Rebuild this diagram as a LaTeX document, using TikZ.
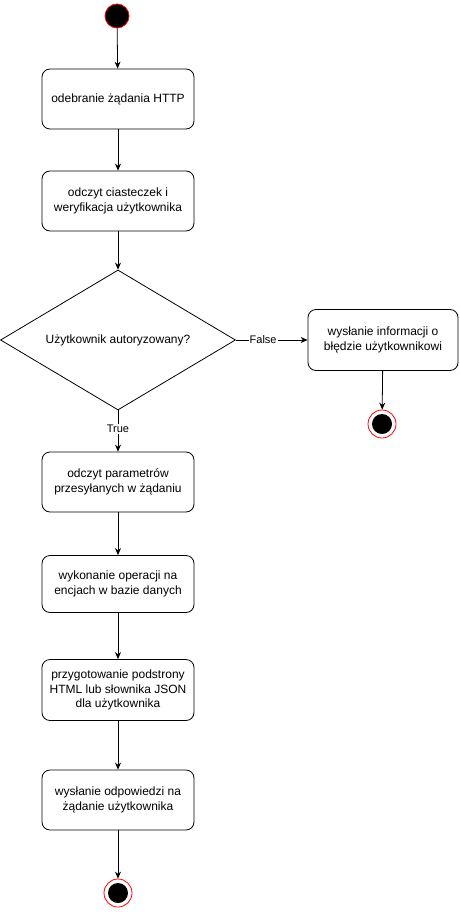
\documentclass[tikz,border=0pt]{standalone}
\usepackage{fontspec}
\setmainfont{Liberation Sans}
\usetikzlibrary{shapes.geometric,arrows.meta}

\tikzset{every picture/.style={line width=0.8pt}}
\tikzset{akcja/.style={draw, rounded corners=8pt, minimum width=152pt, minimum height=60pt, align=center, font=\fontsize{12}{14.5}\selectfont}}
\tikzset{decyzja/.style={draw, diamond, aspect=1.68, minimum width=235pt, minimum height=140pt, inner sep=0pt, font=\fontsize{12}{14.5}\selectfont}}
\tikzset{start/.style={circle, draw=red, fill=black, minimum size=24pt, inner sep=0pt}}
\tikzset{koniec/.style={circle, draw=red, fill=white, minimum size=28pt, inner sep=0pt, path picture={\fill[black] (path picture bounding box.center) circle (10pt);}}}
\tikzset{etykieta/.style={fill=white, inner sep=1pt, font=\fontsize{11}{13}\selectfont}}
\tikzset{strzalka/.style={-{Stealth[length=7pt,width=6pt]}}}

\begin{document}
\begin{tikzpicture}[x=1pt,y=-1pt]
        \useasboundingbox (0,0) rectangle (459,912);
        \node[start] (poczatek) at (117,16) {};
        \node[akcja] (odbior) at (118,99) {odebranie żądania HTTP};
        \node[akcja] (weryfikacja) at (118,201) {odczyt ciasteczek i\\weryfikacja użytkownika};
        \node[decyzja] (autoryzacja) at (118,340) {Użytkownik autoryzowany?};
        \node[akcja, minimum width=150pt, minimum height=61pt] (blad) at (383,340) {wysłanie informacji o\\błędzie użytkownikowi};
        \node[koniec] (koniecblad) at (382,424) {};
        \node[akcja] (parametry) at (118,482) {odczyt parametrów\\przesyłanych w żądaniu};
        \node[akcja, minimum height=57pt] (operacje) at (118,584) {wykonanie operacji na\\encjach w bazie danych};
        \node[akcja, minimum height=61pt] (podstrona) at (118,690) {przygotowanie podstrony\\HTML lub słownika JSON\\dla użytkownika};
        \node[akcja] (odpowiedz) at (118,800) {wysłanie odpowiedzi na\\żądanie użytkownika};
        \node[koniec] (koniecok) at (118,893) {};

        \draw[strzalka] (poczatek) -- (odbior);
        \draw[strzalka] (odbior) -- (weryfikacja);
        \draw[strzalka] (weryfikacja) -- (autoryzacja);
        \draw[strzalka] (autoryzacja.east) -- node[etykieta, pos=0.38] {False} (blad.west);
        \draw[strzalka] (autoryzacja.south) -- node[etykieta, pos=0.45] {True} (parametry.north);
        \draw[strzalka] (blad) -- (koniecblad);
        \draw[strzalka] (parametry) -- (operacje);
        \draw[strzalka] (operacje) -- (podstrona);
        \draw[strzalka] (podstrona) -- (odpowiedz);
        \draw[strzalka] (odpowiedz) -- (koniecok);
    \end{tikzpicture}
\end{document}
